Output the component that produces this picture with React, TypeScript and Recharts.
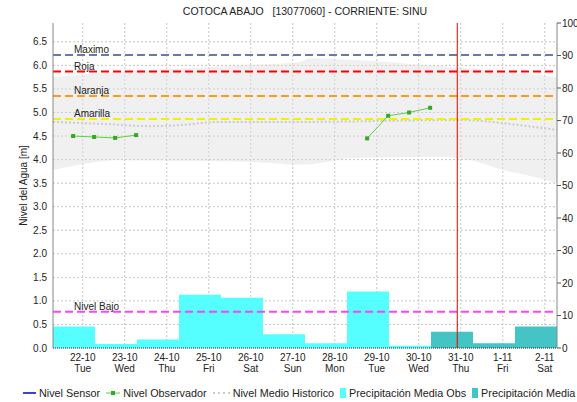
import {
  Area,
  Bar,
  CartesianGrid,
  ComposedChart,
  Line,
  ReferenceLine,
  XAxis,
  YAxis
} from "recharts";

document.body.style.margin = "0";

const TITULO = "COTOCA ABAJO   [13077060] - CORRIENTE: SINU";

// eje x en horas desde el inicio del periodo (12 dias)
const DIAS = ["22-10", "23-10", "24-10", "25-10", "26-10", "27-10", "28-10", "29-10", "30-10", "31-10", "1-11", "2-11"];
const DIAS_SEMANA = ["Tue", "Wed", "Thu", "Fri", "Sat", "Sun", "Mon", "Tue", "Wed", "Thu", "Fri", "Sat"];
const DIA_TICKS_HORA = [17, 41, 65, 89, 113, 137, 161, 185, 209, 233, 257, 281];
const AHORA_HORA = 231;

// precipitacion diaria [mm], una barra por dia
const PRECIP_OBS = [6.6, 1.2, 2.6, 16.4, 15.5, 4.2, 1.5, 17.4, 0.7, null, null, null];
const PRECIP_PRON = [null, null, null, null, null, null, null, null, null, 5.0, 1.5, 6.6];

// nivel observador [m]
const OBS_HORA = [11.5, 23.5, 35.5, 47.5, 113, 179.5, 191.5, 203.5, 215.5];
const OBS_NIVEL = [4.5, 4.48, 4.46, 4.52, null, 4.45, 4.93, 5.0, 5.1];

// banda historica y nivel medio [m]
const HIST_HORA = [0, 15, 38, 55, 113, 141, 147, 170, 198, 221, 238, 261, 267, 288];
const HIST_BAJO = [3.78, 3.89, 3.99, 3.98, 3.95, 3.89, 3.9, 4.03, 4.05, 4.06, 3.99, 3.74, 3.7, 3.5];
const HIST_ALTO = [5.75, 5.8, 5.86, 5.9, 6.01, 6.07, 6.15, 6.12, 6.05, 5.98, 5.94, 5.86, 5.84, 5.75];
const MEDIO_HORA = [0, 27, 55, 72, 95, 141, 233, 267, 288];
const MEDIO_NIVEL = [4.8, 4.76, 4.71, 4.73, 4.8, 4.8, 4.84, 4.73, 4.63];

const UMBRAL_NOMBRES = ["Maximo", "Roja", "Naranja", "Amarilla", "Nivel Bajo"];
const UMBRAL_VALORES = [6.22, 5.87, 5.35, 4.86, 0.77];
const UMBRAL_COLORES = ["#6b79a8", "#ff0000", "#ff9a1a", "#f2f200", "#ff40ff"];

const NIVEL_TICKS = [0, 0.5, 1, 1.5, 2, 2.5, 3, 3.5, 4, 4.5, 5, 5.5, 6, 6.5];
const PRECIP_TICKS = [0, 10, 20, 30, 40, 50, 60, 70, 80, 90, 100];

const FONT = "'Liberation Sans', Arial, sans-serif";
const ANCHO = 577;
const ALTO = 402;
const EJE_IZQ = 53;
const EJE_DER = 20;
const VERDE_LINEA = "#66cc44";
const VERDE_PUNTO = "#33aa22";

const precipData = DIAS.map((dia, i) => ({
  dia,
  obs: PRECIP_OBS[i],
  pron: PRECIP_PRON[i]
}));
const obsData = OBS_HORA.map((hora, i) => ({ hora, nivel: OBS_NIVEL[i] }));
const bandaData = HIST_HORA.map((hora, i) => ({
  hora,
  rango: [HIST_BAJO[i], HIST_ALTO[i]]
}));
const medioData = MEDIO_HORA.map((hora, i) => ({ hora, nivel: MEDIO_NIVEL[i] }));

function DiaTick({ x, y, payload }: any) {
  const i = DIA_TICKS_HORA.indexOf(payload.value);
  return (
    <g fontFamily={FONT} fontSize={10} fill="#222">
      <text x={x} y={y + 13} textAnchor="middle">{DIAS[i]}</text>
      <text x={x} y={y + 24} textAnchor="middle">{DIAS_SEMANA[i]}</text>
    </g>
  );
}

function UmbralLabel({ viewBox, value }: any) {
  return (
    <text x={viewBox.x + 21} y={viewBox.y - 2} fontFamily={FONT} fontSize={10} fill="#222">
      {value}
    </text>
  );
}

function ObsDot({ cx, cy, index }: any) {
  if (cy == null || Number.isNaN(cy)) return <g key={index} />;
  return <rect key={index} x={cx - 2} y={cy - 2} width={4} height={4} fill={VERDE_PUNTO} />;
}

function Leyenda() {
  const item = { display: "flex", alignItems: "center", gap: 3 } as const;
  return (
    <div
      style={{
        position: "absolute",
        top: 387,
        left: 23,
        display: "flex",
        gap: 6,
        fontFamily: FONT,
        fontSize: 10.8,
        color: "#222",
        whiteSpace: "nowrap",
        width: 554,
        overflow: "hidden"
      }}
    >
      <div style={item}>
        <svg width={13} height={10}><line x1={0} x2={13} y1={5} y2={5} stroke="#0000cc" strokeWidth={1.5} /></svg>
        <span>Nivel Sensor</span>
      </div>
      <div style={item}>
        <svg width={14} height={10}>
          <line x1={0} x2={14} y1={5} y2={5} stroke={VERDE_LINEA} strokeWidth={1} />
          <rect x={5} y={3} width={4} height={4} fill={VERDE_PUNTO} />
        </svg>
        <span>Nivel Observador</span>
      </div>
      <div style={item}>
        <svg width={17} height={10}><line x1={0} x2={17} y1={5} y2={5} stroke="#cccccc" strokeWidth={2} strokeDasharray="2 3" /></svg>
        <span>Nivel Medio Historico</span>
      </div>
      <div style={item}>
        <div style={{ width: 6, height: 10, background: "#55ffff" }} />
        <span>Precipitación Media Obs</span>
      </div>
      <div style={item}>
        <div style={{ width: 6, height: 10, background: "#44c4c4" }} />
        <span>Precipitación Media Pronosticada</span>
      </div>
    </div>
  );
}

export default function App() {
  return (
    <div style={{ position: "relative", width: ANCHO, height: ALTO, background: "#fff" }}>
      <div
        style={{
          position: "absolute",
          top: 5,
          left: EJE_IZQ,
          width: ANCHO - EJE_IZQ - EJE_DER,
          textAlign: "center",
          fontFamily: FONT,
          fontSize: 10.5,
          color: "#222",
          whiteSpace: "pre"
        }}
      >
        {TITULO}
      </div>
      <ComposedChart
        width={ANCHO}
        height={ALTO}
        data={precipData}
        margin={{ top: 23, right: 0, bottom: 24, left: 0 }}
        barCategoryGap={0}
        barGap={0}
      >
        <XAxis
          dataKey="hora"
          type="number"
          domain={[0, 288]}
          allowDataOverflow
          ticks={DIA_TICKS_HORA}
          interval={0}
          height={30}
          tick={<DiaTick />}
          tickLine={false}
          tickSize={0}
          tickMargin={0}
          axisLine={{ stroke: "#333", strokeDasharray: "1 1" }}
        />
        <XAxis xAxisId="dias" dataKey="dia" type="category" hide />
        <XAxis
          xAxisId="top"
          orientation="top"
          type="number"
          domain={[0, 288]}
          height={0}
          tick={false}
          tickLine={false}
          axisLine={{ stroke: "#888" }}
        />
        <YAxis
          yAxisId="m"
          type="number"
          domain={[0, 6.9]}
          allowDataOverflow
          ticks={NIVEL_TICKS}
          interval={0}
          width={EJE_IZQ}
          tickFormatter={(v: number) => v.toFixed(1)}
          tick={{ fontSize: 10, fill: "#222", fontFamily: FONT }}
          tickLine={false}
          tickSize={0}
          tickMargin={6}
          axisLine={{ stroke: "#888" }}
          label={{
            value: "Nivel del Agua [m]",
            angle: -90,
            position: "center",
            dx: -3,
            fontSize: 10,
            fill: "#222",
            fontFamily: FONT
          }}
        />
        <YAxis
          yAxisId="mm"
          orientation="right"
          type="number"
          domain={[0, 100]}
          ticks={PRECIP_TICKS}
          interval={0}
          width={EJE_DER}
          tick={{ fontSize: 10, fill: "#222", fontFamily: FONT }}
          tickSize={4}
          tickMargin={1}
          tickLine={{ stroke: "#555" }}
          axisLine={{ stroke: "#888" }}
        />
        <CartesianGrid
          yAxisId="m"
          stroke="#c4c4c4"
          strokeDasharray="2 2"
          horizontalValues={NIVEL_TICKS}
          verticalValues={DIA_TICKS_HORA}
        />
        <Area
          yAxisId="m"
          data={bandaData}
          dataKey="rango"
          type="monotone"
          stroke="none"
          fill="#dedede"
          fillOpacity={0.45}
          isAnimationActive={false}
        />
        <Bar xAxisId="dias" yAxisId="mm" dataKey="obs" stackId="p" fill="#55ffff" isAnimationActive={false} />
        <Bar xAxisId="dias" yAxisId="mm" dataKey="pron" stackId="p" fill="#44c4c4" isAnimationActive={false} />
        <Line
          yAxisId="m"
          data={medioData}
          dataKey="nivel"
          type="monotone"
          stroke="#cccccc"
          strokeWidth={2}
          strokeDasharray="2 2"
          dot={false}
          isAnimationActive={false}
        />
        {UMBRAL_VALORES.map((valor, i) => (
          <ReferenceLine
            key={UMBRAL_NOMBRES[i]}
            yAxisId="m"
            y={valor}
            stroke={UMBRAL_COLORES[i]}
            strokeWidth={2}
            strokeDasharray="8 4"
            label={<UmbralLabel value={UMBRAL_NOMBRES[i]} />}
          />
        ))}
        <ReferenceLine yAxisId="m" x={AHORA_HORA} stroke="#e00000" strokeWidth={1} />
        <Line
          yAxisId="m"
          data={obsData}
          dataKey="nivel"
          stroke={VERDE_LINEA}
          strokeWidth={1}
          dot={<ObsDot />}
          isAnimationActive={false}
        />
      </ComposedChart>
      <Leyenda />
    </div>
  );
}
